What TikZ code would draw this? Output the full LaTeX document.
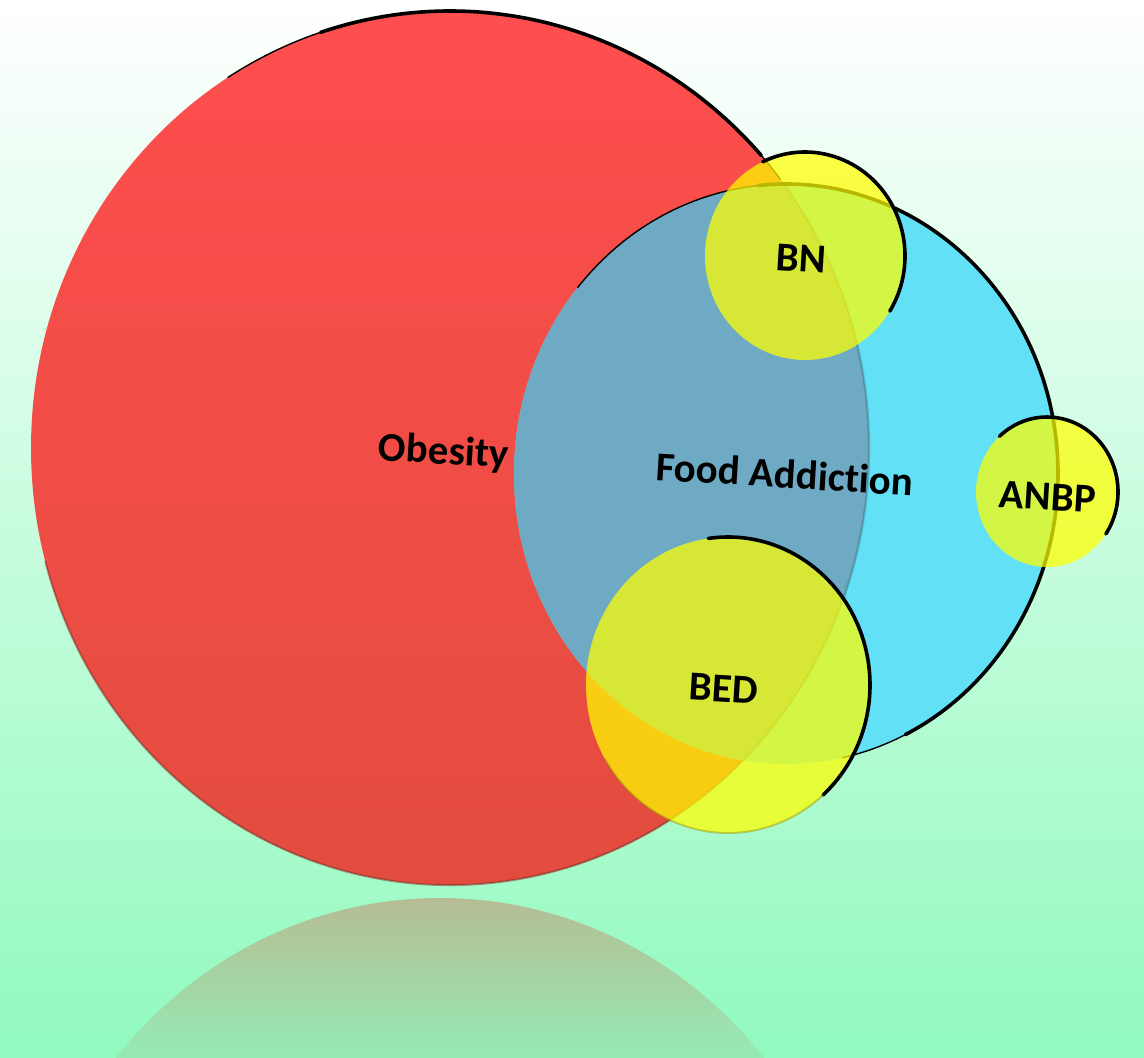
\documentclass[tikz,border=0pt]{standalone}
\usepackage{fontspec}
\setmainfont{Carlito}[Ligatures=NoCommon]
\definecolor{bgtop}{RGB}{255,255,255}
\definecolor{bgbottom}{RGB}{145,250,190}
\definecolor{obtop}{RGB}{255,78,78}
\definecolor{obbottom}{RGB}{226,76,62}
\definecolor{facyan}{RGB}{98,224,245}
\definecolor{famix}{RGB}{111,170,197}
\definecolor{edyellow}{RGB}{255,255,0}
\definecolor{refltop}{RGB}{182,188,148}
\definecolor{reflbottom}{RGB}{150,234,180}
\tikzset{
    rim/.style={line width=1.8pt, black, line cap=round},
    thinrim/.style={line width=0.7pt, black, line cap=round},
    disorder/.style={fill=edyellow, fill opacity=0.72},
    venntext/.style={font=\bfseries\fontsize{20.5}{24}\selectfont, anchor=base, rotate=-3.5, inner sep=0pt},
}
\begin{document}
\begin{tikzpicture}[x=0.5pt,y=0.5pt]
        \useasboundingbox (0,0) rectangle (1144,-1057);
        %background
        \shade[top color=bgtop, bottom color=bgbottom] (0,0) rectangle (1144,-1057);
        \coordinate (ob) at (450,-448);
        \coordinate (fa) at (786,-474);
        \coordinate (bn) at (805,-256);
        \coordinate (anbp) at (1047,-492);
        \coordinate (bed) at (728,-685);
        %reflection
        \begin{scope}
            \clip (440,-1335) ellipse [x radius=419, y radius=437];
            \shade[top color=refltop, bottom color=reflbottom] (0,-896) rectangle (1144,-1057);
        \end{scope}
        %obesity
        \shade[top color=obtop, bottom color=obbottom] (ob) ellipse [x radius=419, y radius=437];
        \draw[obbottom!55!black, line width=1pt, opacity=0.5] (ob) ++(195:419 and 437) arc [start angle=195, end angle=330, x radius=419, y radius=437];
        \draw[thinrim] (ob) ++(122:419 and 437) arc [start angle=122, end angle=38, x radius=419, y radius=437];
        \draw[rim] (ob) ++(108:419 and 437) arc [start angle=108, end angle=42, x radius=419, y radius=437];
        %food addiction
        \fill[facyan] (fa) ellipse [x radius=272, y radius=290];
        \begin{scope}
            \clip (ob) ellipse [x radius=419, y radius=437];
            \fill[famix] (fa) ellipse [x radius=272, y radius=290];
        \end{scope}
        \begin{scope}
            \clip (fa) ellipse [x radius=272, y radius=290];
            \draw[black, opacity=0.18, line width=1.2pt] (ob) ellipse [x radius=419, y radius=437];
        \end{scope}
        \draw[thinrim] (fa) ++(140:272 and 290) arc [start angle=140, end angle=-78, x radius=272, y radius=290];
        \draw[rim] (fa) ++(96:272 and 290) arc [start angle=96, end angle=-64, x radius=272, y radius=290];
        %disorders
        \fill[disorder] (bn) ellipse [x radius=100, y radius=104];
        \draw[rim] (bn) ++(115:100 and 104) arc [start angle=115, end angle=-32, x radius=100, y radius=104];
        \fill[disorder] (anbp) ellipse [x radius=71, y radius=75];
        \draw[rim] (anbp) ++(132:71 and 75) arc [start angle=132, end angle=-34, x radius=71, y radius=75];
        \fill[disorder] (bed) ellipse [x radius=142, y radius=148];
        \draw[rim] (bed) ++(98:142 and 148) arc [start angle=98, end angle=-48, x radius=142, y radius=148];
        \draw[olive, opacity=0.4, line width=1pt] (bed) ++(-48:142 and 148) arc [start angle=-48, end angle=-150, x radius=142, y radius=148];
        %labels
        \node[venntext] (obesitytext) at (443,-464) {Obesity};
        \node[venntext] (foodtext) at (784,-488) {Food Addiction};
        \node[venntext] (bntext) at (800,-272) {BN};
        \node[venntext] (anbptext) at (1047,-510) {ANBP};
        \node[venntext] (bedtext) at (723,-702) {BED};
    \end{tikzpicture}
\end{document}
